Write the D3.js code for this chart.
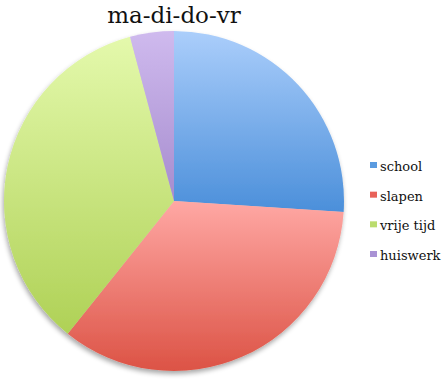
<!DOCTYPE html>
<html><head><meta charset="utf-8">
<script src="https://cdn.jsdelivr.net/npm/d3@7/dist/d3.min.js"></script>
<style>body{margin:0;background:#fff}svg{display:block}</style>
</head><body>
<script>
const categories = ["school", "slapen", "vrije tijd", "huiswerk"];
const values = [6.25, 8.33, 8.42, 1];
const topColors = ["#abcefb", "#ffa8a4", "#e4f9ac", "#cfbaee"];
const bottomColors = ["#4b8fda", "#dc5345", "#afd156", "#a68cce"];
const legendColors = ["#5b9be0", "#e8625a", "#bbdc6e", "#a992d4"];
const title = "ma-di-do-vr";

const W = 448, H = 383, cx = 174, cy = 201, R = 170;
const svg = d3.select("body").append("svg").attr("width", W).attr("height", H);
const defs = svg.append("defs");
const f = defs.append("filter").attr("id", "sh").attr("x", "-10%").attr("y", "-10%").attr("width", "120%").attr("height", "120%");
f.append("feGaussianBlur").attr("in", "SourceAlpha").attr("stdDeviation", 2.5).attr("result", "b");
f.append("feOffset").attr("in", "b").attr("dx", -1).attr("dy", 3).attr("result", "o");
f.append("feComponentTransfer").attr("in", "o").attr("result", "o2").append("feFuncA").attr("type", "linear").attr("slope", 0.35);
const m = f.append("feMerge"); m.append("feMergeNode").attr("in", "o2"); m.append("feMergeNode").attr("in", "SourceGraphic");

categories.forEach((c, i) => {
  const g = defs.append("linearGradient").attr("id", "g" + i).attr("x1", 0).attr("y1", 0).attr("x2", 0).attr("y2", 1);
  g.append("stop").attr("offset", 0).attr("stop-color", topColors[i]);
  g.append("stop").attr("offset", 1).attr("stop-color", bottomColors[i]);
});

const pie = d3.pie().sort(null).value(d => d.v);
const arcs = pie(categories.map((c, i) => ({c, v: values[i], i})));
const arc = d3.arc().innerRadius(0).outerRadius(R);
const gp = svg.append("g").attr("transform", `translate(${cx},${cy})`).attr("filter", "url(#sh)");
gp.selectAll("path").data(arcs).join("path")
  .attr("d", arc).attr("fill", d => `url(#g${d.data.i})`);

svg.append("text").attr("x", cx).attr("y", 23).attr("text-anchor", "middle")
  .attr("font-family", "DejaVu Serif").attr("font-size", 23).attr("fill", "#111").text(title);

const lg = svg.append("g");
const ly = d3.scalePoint().domain(categories).range([171, 260]);
categories.forEach((c, i) => {
  lg.append("rect").attr("x", 370).attr("y", ly(c) - 9).attr("width", 7).attr("height", 6).attr("fill", legendColors[i]);
  lg.append("text").attr("x", 380).attr("y", ly(c)).attr("font-family", "DejaVu Serif").attr("font-size", 13).attr("fill", "#111").text(c);
});
</script>
</body></html>
